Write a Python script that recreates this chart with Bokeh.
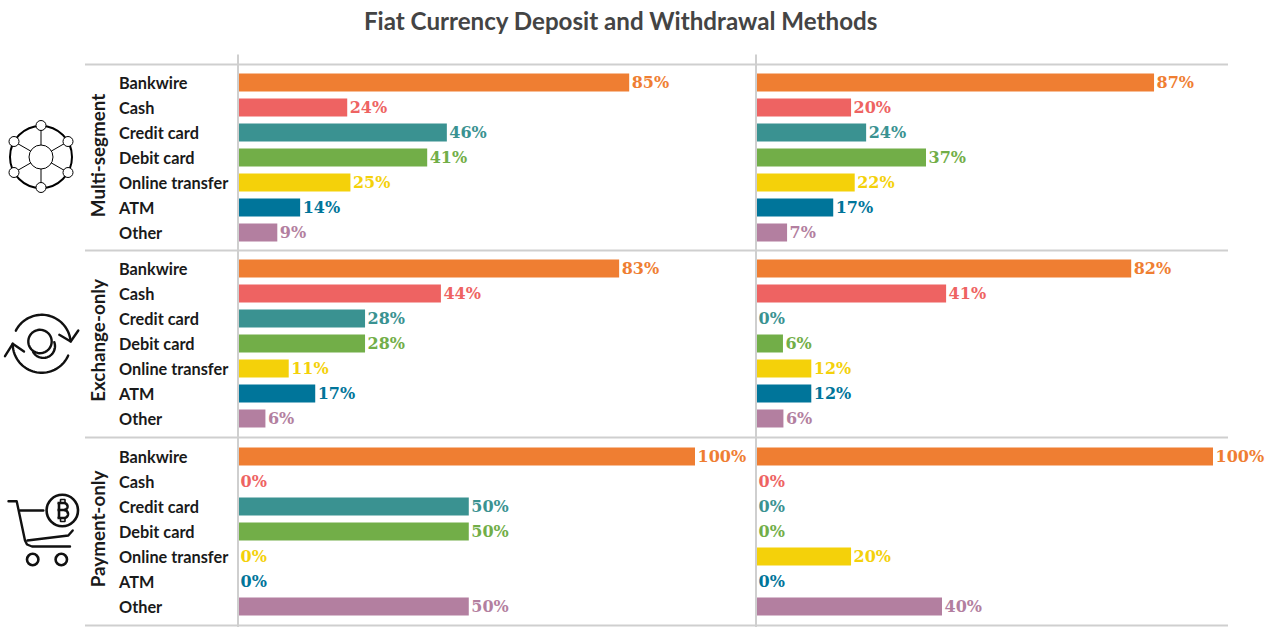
import numpy as np
from bokeh.plotting import figure
from bokeh.models import Range1d, ColumnDataSource
from bokeh.core.properties import value
from bokeh.embed import file_html
from bokeh.resources import INLINE

title = "Fiat Currency Deposit and Withdrawal Methods"
segments = ["Multi-segment", "Exchange-only", "Payment-only"]
methods = ["Bankwire", "Cash", "Credit card", "Debit card", "Online transfer", "ATM", "Other"]
colors = ["#EF7E32", "#EE6362", "#3A9291", "#72AE48", "#F4D10A", "#00759A", "#B37FA0"]

deposit_multi = [85.6, 23.9, 45.7, 41.4, 24.6, 13.6, 8.6]
deposit_exchange = [83.4, 44.4, 27.8, 27.8, 11.1, 16.9, 6.0]
deposit_payment = [100, 0, 50.5, 50.5, 0, 0, 50.5]
withdraw_multi = [87.1, 20.8, 24.1, 37.2, 21.6, 16.9, 6.8]
withdraw_exchange = [82.1, 41.6, 0, 5.9, 12.1, 12.1, 6.0]
withdraw_payment = [100, 0, 0, 0, 20.8, 0, 40.7]

deposit_labels = [[85, 24, 46, 41, 25, 14, 9], [83, 44, 28, 28, 11, 17, 6], [100, 0, 50, 50, 0, 0, 50]]
withdraw_labels = [[87, 20, 24, 37, 22, 17, 7], [82, 41, 0, 6, 12, 12, 6], [100, 0, 0, 0, 20, 0, 40]]

W, H = 1279, 627
SHIFT = 0.5
PX_PER_PCT = 4.57
X0_DEP, X0_WD = 238, 756
GROUP_Y = [82, 268, 456]
ROW = 25
BAR_H = 18
RULES_Y = [64, 250, 437, 625]
LABEL_FONT = value("Lato")
VAL_FONT = value("DejaVu Serif")

p = figure(width=W, height=H, output_backend="svg", toolbar_location=None,
           x_range=Range1d(SHIFT, W + SHIFT), y_range=Range1d(H, 0), min_border=0,
           x_axis_type=None, y_axis_type=None, outline_line_color=None)
p.grid.visible = False
p.background_fill_color = "white"
p.extra_x_ranges = {
    "dep": Range1d((SHIFT - X0_DEP) / PX_PER_PCT, (W + SHIFT - X0_DEP) / PX_PER_PCT),
    "wd": Range1d((SHIFT - X0_WD) / PX_PER_PCT, (W + SHIFT - X0_WD) / PX_PER_PCT),
}

RULE = "#cfcfcf"
p.segment(x0=[85] * 4, x1=[1228] * 4, y0=RULES_Y, y1=RULES_Y, line_color=RULE, line_width=2)

def panel(groups, labels, rng):
    ys, vals, cols, txt = [], [], [], []
    for g, (row_vals, row_labs) in enumerate(zip(groups, labels)):
        for r, (v, l) in enumerate(zip(row_vals, row_labs)):
            ys.append(GROUP_Y[g] + r * ROW)
            vals.append(v)
            cols.append(colors[r])
            txt.append(f"{l}%")
    src = ColumnDataSource(dict(y=ys, v=vals, c=cols, t=txt))
    p.hbar(y="y", left=0, right="v", height=BAR_H, fill_color="c", line_color=None,
           source=src, x_range_name=rng)
    p.text(x="v", y="y", text="t", text_color="c", text_font=VAL_FONT, text_font_style="bold",
           text_font_size="16px", text_baseline="middle", text_align="left", x_offset=2.5, y_offset=0,
           source=src, x_range_name=rng)

panel([deposit_multi, deposit_exchange, deposit_payment], deposit_labels, "dep")
panel([withdraw_multi, withdraw_exchange, withdraw_payment], withdraw_labels, "wd")

p.segment(x0=[X0_DEP, X0_WD], x1=[X0_DEP, X0_WD], y0=[54, 54], y1=[H, H], line_color=RULE, line_width=2)

# method labels
ly = [GROUP_Y[g] + r * ROW for g in range(3) for r in range(7)]
lt = [m for g in range(3) for m in methods]
p.text(x=[119] * len(ly), y=ly, text=lt, text_font=LABEL_FONT, text_font_style="bold",
       text_font_size="16.3px", text_color="#1a1a1a", text_baseline="middle", text_align="left", y_offset=-0.5)

# segment labels
p.text(x=[97] * 3, y=[155, 340, 528.5], text=segments, angle=np.pi / 2, text_font=LABEL_FONT,
       text_font_style="bold", text_font_size="18.8px", text_color="#1a1a1a",
       text_align="center", text_baseline="middle")

# title
p.text(x=[621], y=[19.5], text=[title], text_font=LABEL_FONT, text_font_style="bold",
       text_font_size="24.15px", text_color="#444444", text_align="center", text_baseline="middle")

def arc(cx, cy, r, a0, a1, n=40):
    a = np.radians(np.linspace(a0, a1, n))
    return list(cx + r * np.cos(a)), list(cy + r * np.sin(a))

# icon: network
cx, cy = 41, 156.5
p.circle(x=[cx], y=[cy], radius=31, fill_color=None, line_color="black", line_width=2)
node_x = [41, 68, 68, 41, 14, 14]
node_y = [125, 141, 172, 187, 172, 141]
for nx, ny in zip(node_x, node_y):
    p.line([cx, nx], [cy, ny], line_color="black", line_width=1)
p.circle(x=[cx], y=[cy], radius=12, fill_color="white", line_color="black", line_width=1)
p.circle(x=node_x, y=node_y, radius=5, fill_color="white", line_color="black", line_width=1)

# icon: exchange
I = dict(line_color="#111111", line_width=2.4, line_cap="round", line_join="round")
x, y = arc(41.7, 343.3, 29, -153, -5); p.line(x, y, **I)
p.line([59.3, 70.7, 78.3], [334.3, 341, 330], **I)
x, y = arc(41.7, 343.3, 29, 24, 180); p.line(x, y, **I)
p.line([5, 12.7, 24], [355.7, 343.3, 351], **I)
x, y = arc(40, 341, 11.7, 0, 360); p.line(x, y, **I)
x, y = arc(43.3, 345.7, 11.7, -20, 150); p.line(x, y, **I)

# icon: cart
p.line([8.5, 16.7, 25, 27, 32, 70], [500.7, 500.7, 540, 544, 546, 546], **I)
p.line([27.3, 68.3, 72.7], [540, 535, 530], **I)
p.line([20, 43.3], [510, 510], **I)
p.circle(x=[32.7, 61.3], y=[559, 559], radius=5.7, fill_color=None, line_color="#111111", line_width=2.6)
p.circle(x=[62.3], y=[510], radius=15.7, fill_color=None, line_color="#111111", line_width=2.6)
# coin symbol
B = dict(line_color="#111111", line_width=2.6, line_join="round")
p.line([57.5, 64], [502.5, 502.5], **B)
x, y = arc(64, 506, 3.5, -90, 90); p.line(x, y, **B)
x, y = arc(64, 513.5, 4, -90, 90); p.line(x, y, **B)
p.line([57.5, 64], [509.5, 509.5], **B)
p.line([57.5, 64], [517.5, 517.5], **B)
p.line([59, 59], [502.5, 517.5], **B)
p.line([60.5, 60.5, 65, 65], [502.5, 499, 499, 502.5], line_color="#111111", line_width=1.6)
p.line([60.5, 60.5, 65, 65], [517.5, 521, 521, 517.5], line_color="#111111", line_width=1.6)

open("out.html", "w").write(file_html(p, INLINE))
